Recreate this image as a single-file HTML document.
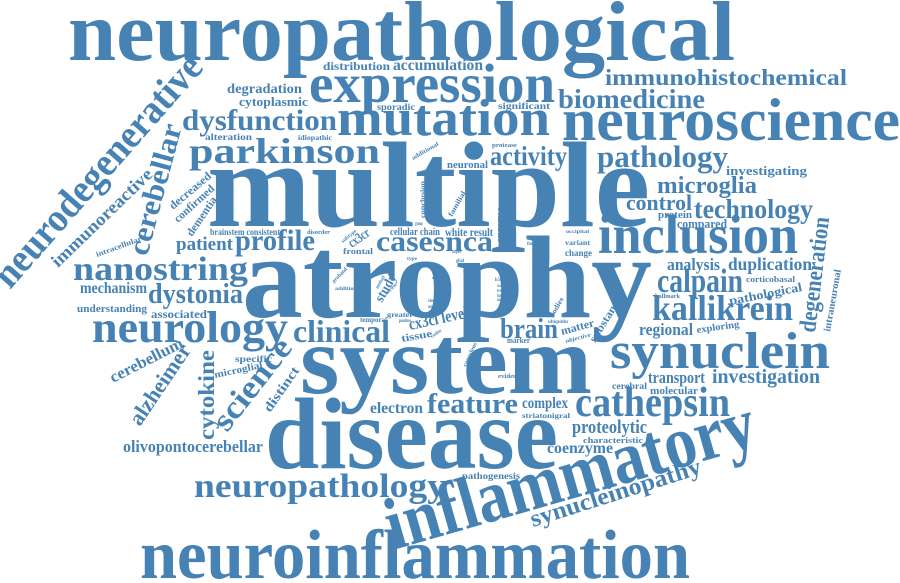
<!DOCTYPE html>
<html>
<head>
<meta charset="utf-8">
<style>
  html,body{margin:0;padding:0;background:#fff;}
  #cloud{display:block;}
  #cloud text{font-family:"Liberation Serif","DejaVu Serif",serif;font-weight:bold;fill:#4682b4;}
</style>
</head>
<body>
<svg id="cloud" width="900" height="583" viewBox="0 0 900 583" xmlns="http://www.w3.org/2000/svg">
  <g id="words"></g>
</svg>
<script>
// word, x, baseline y, length along baseline, angle (deg), optional font size
const words = [
  ["neuropathological",68,60,667,0,85],
  ["multiple",207,226,443,0,122],
  ["atrophy",242,317,410,0,118],
  ["system",300,393,292,0,98],
  ["disease",265,468,293,0,102],
  ["neuroinflammation",140,578,550,0,70],
  ["expression",309,102,246,0,55],
  ["mutation",337,135,213,0,52],
  ["neuroscience",562,140,338,0,60],
  ["immunohistochemical",605,85,242,0,23],
  ["biomedicine",558,108,147,0,27],
  ["significant",498,109,52],
  ["distribution",323,70,67],
  ["accumulation",393,70,90],
  ["degradation",227,93,75],
  ["cytoplasmic",239,106,69],
  ["sporadic",377,110,38],
  ["dysfunction",182,130,155,0,30],
  ["alteration",205,140,47],
  ["idiopathic",298,140,34],
  ["parkinson",189,163,191,0,36],
  ["protease",492,147,25],
  ["activity",490,165,77,0,27],
  ["neuronal",447,168,41],
  ["pathology",597,167,131,0,31],
  ["investigating",726,175,81],
  ["microglia",657,193,100,0,24],
  ["control",626,210,66,0,22],
  ["protein",658,218,34],
  ["technology",694,218,119,0,27],
  ["compared",677,228,50],
  ["brainstem consistent",210,235,70,0,9],
  ["disorder",307,234,23],
  ["cellular chain",390,235,50,0,11],
  ["white result",445,236,48,0,12],
  ["occipital",566,233,23],
  ["variant",565,245,25],
  ["change",565,256,27],
  ["patient",176,250,57,0,19],
  ["profile",235,250,80,0,30],
  ["casesnca",376,251,117,0,30],
  ["frontal",343,254,30],
  ["inclusion",598,253,200,0,55],
  ["finding",527,245,13],
  ["type",407,260,10],
  ["analysis",667,270,53,0,17],
  ["duplication",728,270,84,0,18],
  ["nanostring",73,280,175,0,34],
  ["corticobasal",746,282,49],
  ["addition",335,290,22],
  ["calpain",657,292,86,0,34],
  ["dystonia",148,303,95,0,28],
  ["mechanism",80,293,67],
  ["hallmark",655,298,25],
  ["understanding",77,312,70],
  ["associated",151,318,56],
  ["greater",387,317,26],
  ["kallikrein",652,320,141,0,36],
  ["temporal",360,322,27],
  ["ubiquitin",548,323,20],
  ["regional",639,335,54,0,17],
  ["brain",500,338,58,0,28],
  ["neurology",92,342,196,0,44],
  ["clinical",293,342,97,0,32],
  ["tissue",402,342,31,-10],
  ["marker",507,343,23],
  ["specific",235,362,37],
  ["synuclein",610,368,220,0,52],
  ["evidence",498,378,25],
  ["transport",648,383,57,0,17],
  ["investigation",712,383,108,0,20],
  ["cerebral",612,389,35],
  ["molecular",650,394,48],
  ["electron",370,413,53,0,16],
  ["complex",522,408,46,0,16],
  ["feature",427,413,91,0,29],
  ["striatonigral",522,418,48],
  ["cathepsin",575,416,155,0,42],
  ["proteolytic",572,433,75,0,19],
  ["characteristic",583,443,60],
  ["olivopontocerebellar",123,452,140,0,17],
  ["coenzyme",547,453,66,0,16],
  ["pathogenesis",462,479,58],
  ["neuropathology",194,497,252,0,34],
  ["neurodegenerative",10,290,295,-48.7,40],
  ["immunoreactive",58,268,133,-44,18],
  ["cerebellar",147,257,135,-75,30],
  ["intracellular",97,257,48,-20],
  ["decreased",173,210,51,-40],
  ["confirmed",178,223,50,-42],
  ["dementia",192,237,45,-56],
  ["cerebellum",113,383,80,-27],
  ["alzheimer",140,427,93,-56,22],
  ["cytokine",214,440,90,-90,23],
  ["microglial",215,378,49,-12],
  ["science",227,433,108,-52,32],
  ["distinct",270,413,52,-55],
  ["inflammatory",393,550,382,-16,74],
  ["synucleinopathy",533,527,178,-17.6,24],
  ["degeneration",815,333,116,-83,24],
  ["intraneuronal",830,332,63,-80],
  ["pathological",730,305,74,-11],
  ["exploring",697,333,43,-8],
  ["matter",562,335,34,-15],
  ["substantia",595,343,55,-58],
  ["putative",546,282,25,-90],
  ["bodies",553,318,22,-60],
  ["enzyme",504,243,36,-90],
  ["conclusion",425,218,37,-90],
  ["familial",452,217,28,-60],
  ["additional",413,160,30,-30],
  ["cx3cr",352,248,23,-35,14],
  ["subtype",343,243,18,-40],
  ["proband",334,283,19,-45],
  ["study",382,303,30,-60,14],
  ["region",441,293,27,-90,13],
  ["cx3cl level",410,330,60,-12,17],
  ["coeruleus",466,367,26,-65],
  ["caudate",432,338,12,-35],
  ["group",415,225,8],
  ["caspase",452,253,9],
  ["glial",456,262,8],
  ["life",463,273,8],
  ["cbd",465,281,8],
  ["base",497,270,8],
  ["h5bq",495,281,10],
  ["code",497,287,6],
  ["trem",497,292,8],
  ["family",497,297,8],
  ["ataxia",497,301,8],
  ["show",428,302,9],
  ["nerve",428,308,8],
  ["pontine",399,322,12],
  ["method",378,289,14,-60],
  ["mortem",387,295,14,-45],
  ["series",470,300,18,-65]
];
const objectiveWord = ["objective",566,343,26,-15];

const g = document.getElementById('words');
const NS = 'http://www.w3.org/2000/svg';
function place(w, italic) {
  const [txt, x, y, len, ang = 0, size] = w;
  const fs = size || Math.max(5, 2.05 * len / txt.length);
  const t = document.createElementNS(NS, 'text');
  t.setAttribute('x', x);
  t.setAttribute('y', y);
  t.setAttribute('font-size', fs.toFixed(1));
  t.setAttribute('textLength', len);
  t.setAttribute('lengthAdjust', 'spacingAndGlyphs');
  if (ang) t.setAttribute('transform', 'rotate(' + ang + ' ' + x + ' ' + y + ')');
  if (italic) t.setAttribute('font-style', 'italic');
  t.textContent = txt;
  
  
  g.appendChild(t);
}
words.forEach(w => place(w, false));
place(objectiveWord, true);
</script>
</body>
</html>
